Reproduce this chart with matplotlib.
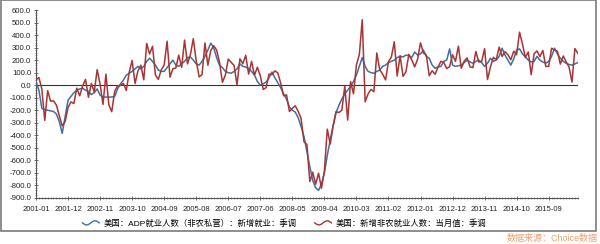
import numpy as np
import pandas as pd
import matplotlib
matplotlib.use("Agg")
import matplotlib.pyplot as plt
from matplotlib.lines import Line2D
from matplotlib.legend_handler import HandlerBase
from matplotlib.patches import Rectangle
from matplotlib.ticker import MultipleLocator, FixedLocator

plt.rcParams['font.family'] = ['Liberation Sans', 'Noto Sans CJK SC', 'DejaVu Sans']

# ---------------- data ----------------
months = pd.date_range("2001-01", "2016-07", freq="MS").strftime("%Y-%m").tolist()

adp = [
    30, -40, -185, -195, -200, -205, -210, -230, -290, -385, -250, -120,      # 2001
    -90, -60, -40, -30, -25, -40, -50, -75, -60, -30, -80, -95,               # 2002
    -95, -95, -95, -90, -30, 10, 40, 80, 95, 110, 130, 150,                   # 2003
    130, 150, 190, 215, 190, 160, 120, 110, 110, 140, 170, 200,               # 2004
    160, 150, 170, 190, 220, 225, 200, 170, 160, 190, 230, 280,               # 2005
    335, 300, 220, 160, 140, 110, 100, 95, 110, 130, 170, 150,                # 2006
    145, 130, 110, 80, 30, 0, 10, 25, 60, 105, 60, 20,                        # 2007
    -20, -70, -110, -175, -200, -215, -260, -330, -410, -530, -650, -760,     # 2008
    -820, -840, -790, -700, -560, -440, -320, -220, -160, -110, -70, -40,     # 2009
    -10, 30, 80, 150, 220, 150, 110, 100, 95, 110, 120, 150,                  # 2010
    160, 180, 190, 200, 220, 230, 225, 240, 235, 220, 265, 240,               # 2011
    250, 280, 230, 215, 160, 135, 145, 150, 190, 200, 290, 160,               # 2012
    150, 155, 160, 180, 200, 185, 175, 190, 200, 180, 150, 175,               # 2013
    215, 190, 200, 230, 295, 240, 200, 160, 210, 280, 290, 250,               # 2014
    225, 200, 185, 190, 230, 200, 185, 175, 190, 230, 295, 250,               # 2015
    215, 190, 175, 165, 160, 170, 180,                                        # 2016
]

nfp = [
    42, 61, -30, -281, -44, -128, -125, -159, -244, -325, -292, -178,         # 2001
    -134, -147, -24, -85, -7, 46, -97, 14, -54, 124, 8, -154,                 # 2002
    88, -157, -212, -49, -6, -2, 14, -42, 103, 197, 13, 114,                  # 2003
    159, 43, 333, 249, 310, 81, 46, 122, 160, 351, 64, 132,                   # 2004
    136, 240, 142, 360, 170, 243, 371, 194, 66, 84, 337, 159,                 # 2005
    277, 315, 280, 182, 23, 80, 208, 183, 157, 2, 210, 171,                   # 2006
    238, 88, 190, 80, 143, 75, -34, -20, 88, 84, 114, 98,                     # 2007
    17, -84, -78, -210, -185, -165, -209, -266, -452, -473, -769, -695,       # 2008
    -791, -703, -823, -686, -351, -470, -329, -212, -219, -200, -7, -279,     # 2009
    28, -69, 163, 243, 522, -133, -70, -34, -52, 257, 123, 88,                # 2010
    42, 188, 225, 346, 73, 235, 70, 107, 246, 202, 146, 207,                  # 2011
    338, 257, 239, 75, 115, 87, 143, 190, 181, 132, 149, 243,                 # 2012
    190, 311, 135, 192, 218, 146, 140, 269, 185, 189, 291, 45,                # 2013
    144, 222, 203, 304, 229, 267, 243, 203, 271, 243, 423, 329,               # 2014
    221, 265, 84, 251, 273, 228, 277, 150, 149, 295, 280, 271,                # 2015
    168, 233, 186, 144, 24, 292, 255,                                         # 2016
]

tick_labels = ["2001-01", "2001-12", "2002-11", "2003-10", "2004-09", "2005-08",
               "2006-07", "2007-06", "2008-05", "2009-04", "2010-03", "2011-02",
               "2012-01", "2012-12", "2013-11", "2014-10", "2015-09"]

label_adp = "美国：ADP就业人数（非农私营）：新增就业：季调"
label_nfp = "美国：新增非农就业人数：当月值：季调"
source = "数据来源：Choice数据"

# ---------------- plot ----------------
fig = plt.figure(figsize=(6.0, 2.44), dpi=100)
ax = fig.add_axes([0.06, 0.189, 0.903, 0.770])

x = np.arange(len(months))
blue = "#3f6fa3"
red = "#a83434"
ax.plot(x, adp, color=blue, lw=1.1, label=label_adp, zorder=3)
ax.plot(x, nfp, color=red, lw=1.1, label=label_nfp, zorder=4)
ax.axhline(0, color="#333333", lw=0.8, zorder=2)

ax.set_xlim(0, len(months) - 1)
ax.set_ylim(-900, 600)

for s in ["top", "right"]:
    ax.spines[s].set_visible(False)
ax.spines["left"].set_color("#555555")
ax.spines["bottom"].set_color("#555555")
ax.spines["left"].set_linewidth(0.8)
ax.spines["bottom"].set_linewidth(0.8)

yt = np.arange(-900, 601, 100)
ax.set_yticks(yt)
ax.set_yticklabels([f"{v:.1f}" for v in yt])
ax.yaxis.set_minor_locator(MultipleLocator(20))

tick_pos = [months.index(t) for t in tick_labels]
ax.xaxis.set_major_locator(FixedLocator(tick_pos))
ax.set_xticklabels(tick_labels)
ax.xaxis.set_minor_locator(MultipleLocator(1))

ax.tick_params(axis="y", which="major", labelsize=5.6, length=3, width=0.6,
               color="#555555", direction="inout", pad=2, labelcolor="#222222")
ax.tick_params(axis="x", which="major", labelsize=5.5, length=3, width=0.6,
               color="#555555", direction="inout", pad=4, labelcolor="#222222")
ax.tick_params(axis="both", which="minor", length=1.6, width=0.5,
               color="#777777", direction="inout")


class WaveHandler(HandlerBase):
    def create_artists(self, legend, orig_handle, xdescent, ydescent,
                       width, height, fontsize, trans):
        t = np.linspace(0, 1, 40)
        xs = t * width - xdescent
        ys = height / 2 - ydescent - height * 0.35 * np.sin(2 * np.pi * t)
        ln = Line2D(xs, ys, color=orig_handle.get_color(), lw=1.0)
        ln.set_transform(trans)
        return [ln]


handles, labels = ax.get_legend_handles_labels()
leg = fig.legend(handles, labels, loc="center", bbox_to_anchor=(0.474, 0.084),
                 ncol=2, frameon=False, fontsize=6.0, handlelength=2.0,
                 handletextpad=0.5, columnspacing=2.2,
                 handler_map={Line2D: WaveHandler()})

fig.patches.append(Rectangle((0.002, 0.053), 0.991, 0.945, transform=fig.transFigure,
                             fill=False, edgecolor="#7a7a7a", lw=1.2))
fig.text(0.997, 0.022, source, ha="right", va="center", fontsize=6.5,
         color="#f0a070")

fig.savefig("out.png", dpi=100)
